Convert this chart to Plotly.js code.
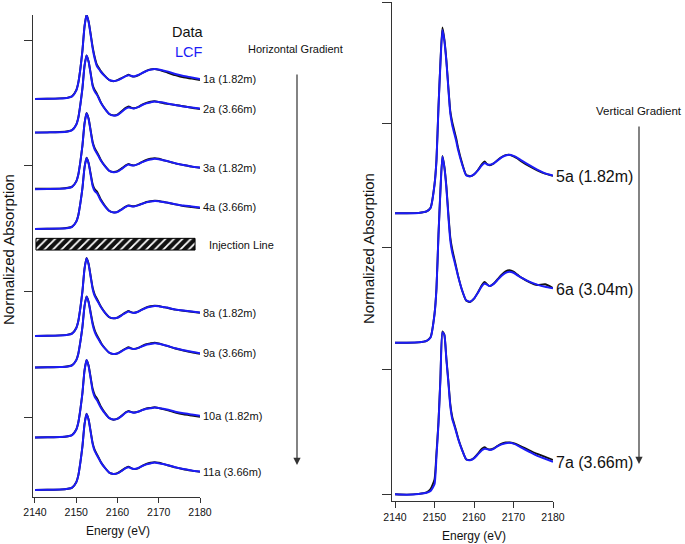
<!DOCTYPE html>
<html>
<head>
<meta charset="utf-8">
<script src="https://cdn.plot.ly/plotly-3.0.1.min.js"></script>
<style>html,body{margin:0;padding:0;background:#fff}#chart{width:685px;height:544px}</style>
</head>
<body>
<div id="chart"></div>
<script>
// ---------- DATA ----------
const energy = [2140,2143,2146,2148,2149,2150,2150.5,2151,2151.5,2152,2152.5,2153,2153.5,2154,2154.5,2155,2155.5,2156,2157,2158,2159,2160,2161,2162,2162.7,2163.3,2164,2165,2166,2167,2168,2169,2170,2171,2172,2174,2176,2178,2180];
const xTicks = [2140,2150,2160,2170,2180];

// Horizontal gradient (left panel) – normalized absorption
const data1a = [0,0.01,0.03,0.07,0.14,0.44,0.82,1.52,2.42,3.62,4.22,3.88,3.25,2.58,2.08,1.72,1.55,1.38,1.14,0.95,0.89,0.94,1.05,1.15,1.21,1.15,1.12,1.18,1.30,1.41,1.48,1.50,1.46,1.40,1.33,1.19,1.08,1.02,0.95];
const lcf1a  = [0,0.01,0.02,0.06,0.13,0.42,0.80,1.50,2.40,3.60,4.20,3.85,3.20,2.50,2.00,1.65,1.50,1.35,1.13,0.95,0.90,0.93,1.03,1.14,1.19,1.16,1.13,1.20,1.30,1.40,1.46,1.50,1.48,1.43,1.38,1.25,1.15,1.08,1.00];
const data2a = [0,0.01,0.03,0.07,0.13,0.40,0.75,1.41,2.22,3.33,3.86,3.56,2.97,2.37,2.12,1.95,1.73,1.50,1.18,0.93,0.86,0.90,1.07,1.24,1.31,1.25,1.22,1.28,1.40,1.49,1.55,1.57,1.53,1.48,1.44,1.38,1.32,1.24,1.18];
const lcf2a  = [0,0.01,0.02,0.06,0.12,0.39,0.73,1.39,2.20,3.31,3.85,3.54,2.93,2.31,2.05,1.90,1.69,1.48,1.17,0.93,0.85,0.88,1.03,1.20,1.26,1.23,1.20,1.27,1.38,1.46,1.51,1.55,1.53,1.50,1.46,1.38,1.31,1.25,1.20];
const data3a = [0.02,0.02,0.03,0.07,0.13,0.39,0.73,1.38,2.18,3.28,3.81,3.53,2.94,2.35,2.04,1.86,1.66,1.45,1.15,0.92,0.86,0.90,1.04,1.19,1.26,1.21,1.19,1.26,1.37,1.46,1.52,1.55,1.52,1.46,1.40,1.29,1.21,1.13,1.07];
const lcf3a  = [0,0.01,0.02,0.06,0.12,0.38,0.72,1.37,2.17,3.27,3.80,3.50,2.89,2.28,1.97,1.80,1.61,1.42,1.14,0.92,0.85,0.88,1.01,1.17,1.23,1.20,1.18,1.25,1.35,1.43,1.48,1.52,1.50,1.45,1.41,1.30,1.21,1.14,1.08];
const data4a = [0,0.01,0.02,0.06,0.12,0.37,0.69,1.29,2.04,3.07,3.56,3.30,2.76,2.22,1.98,1.88,1.68,1.46,1.15,0.91,0.83,0.86,0.99,1.12,1.18,1.15,1.14,1.19,1.27,1.35,1.39,1.41,1.40,1.36,1.32,1.23,1.15,1.10,1.05];
const lcf4a  = [0,0.01,0.02,0.05,0.11,0.36,0.68,1.28,2.03,3.06,3.55,3.27,2.70,2.13,1.89,1.80,1.61,1.41,1.12,0.90,0.83,0.85,0.97,1.11,1.16,1.14,1.13,1.18,1.26,1.33,1.37,1.40,1.39,1.35,1.32,1.24,1.17,1.13,1.08];
const data8a = [0,0.01,0.03,0.07,0.13,0.40,0.75,1.41,2.23,3.35,3.90,3.61,3.00,2.40,2.06,1.86,1.66,1.46,1.16,0.94,0.88,0.92,1.05,1.18,1.25,1.19,1.16,1.22,1.33,1.43,1.49,1.52,1.50,1.45,1.41,1.32,1.26,1.21,1.16];
const lcf8a  = [0,0.01,0.02,0.06,0.12,0.39,0.74,1.40,2.22,3.34,3.89,3.58,2.95,2.33,1.99,1.80,1.62,1.44,1.16,0.95,0.89,0.91,1.03,1.16,1.22,1.18,1.15,1.21,1.32,1.41,1.46,1.50,1.49,1.45,1.42,1.33,1.27,1.22,1.17];
const data9a = [0,0.01,0.02,0.06,0.12,0.37,0.69,1.29,2.03,3.06,3.55,3.29,2.75,2.21,1.85,1.62,1.43,1.23,0.95,0.74,0.67,0.71,0.83,0.95,1.01,0.96,0.93,0.98,1.08,1.17,1.21,1.24,1.20,1.14,1.08,0.95,0.85,0.76,0.69];
const lcf9a  = [0,0.01,0.02,0.05,0.11,0.36,0.68,1.28,2.02,3.05,3.54,3.26,2.69,2.13,1.77,1.55,1.38,1.20,0.94,0.74,0.68,0.70,0.81,0.93,0.98,0.95,0.92,0.97,1.06,1.14,1.17,1.21,1.19,1.14,1.09,0.96,0.86,0.79,0.71];
const data10a = [0,0.01,0.02,0.06,0.13,0.40,0.75,1.40,2.22,3.34,3.88,3.60,3.01,2.42,2.12,1.96,1.76,1.54,1.22,0.97,0.89,0.94,1.09,1.26,1.33,1.28,1.25,1.29,1.38,1.46,1.48,1.51,1.47,1.42,1.37,1.25,1.16,1.10,1.04];
const lcf10a  = [0,0.01,0.02,0.06,0.12,0.39,0.74,1.39,2.21,3.33,3.87,3.56,2.94,2.32,2.02,1.87,1.67,1.48,1.19,0.97,0.90,0.93,1.07,1.24,1.30,1.27,1.24,1.29,1.37,1.44,1.46,1.50,1.48,1.44,1.40,1.29,1.21,1.15,1.09];
const data11a = [0,0.01,0.02,0.06,0.12,0.39,0.73,1.38,2.18,3.28,3.81,3.52,2.93,2.33,1.99,1.79,1.59,1.39,1.10,0.87,0.80,0.84,0.97,1.11,1.17,1.10,1.05,1.08,1.21,1.30,1.36,1.39,1.36,1.31,1.25,1.13,1.04,0.97,0.91];
const lcf11a  = [0,0.01,0.02,0.06,0.12,0.38,0.72,1.37,2.17,3.27,3.80,3.50,2.89,2.28,1.94,1.75,1.56,1.37,1.09,0.87,0.80,0.83,0.95,1.09,1.14,1.09,1.05,1.10,1.20,1.28,1.33,1.37,1.34,1.30,1.25,1.14,1.05,0.98,0.92];

// Vertical gradient (right panel)
const data5a = [0,0,0.01,0.05,0.15,0.78,1.45,2.86,4.08,5.02,4.70,4.15,3.42,2.76,2.46,2.24,2.02,1.76,1.35,1.04,1.00,1.05,1.17,1.33,1.40,1.33,1.30,1.35,1.44,1.52,1.57,1.58,1.54,1.48,1.40,1.27,1.16,1.07,1.01];
const lcf5a  = [0,0,0.01,0.05,0.14,0.76,1.43,2.84,4.05,4.95,4.65,4.11,3.38,2.70,2.38,2.16,1.95,1.70,1.32,1.03,1.00,1.05,1.16,1.30,1.36,1.32,1.31,1.35,1.43,1.51,1.56,1.58,1.55,1.50,1.43,1.30,1.18,1.08,1.02];
const data6a = [0,0,0.01,0.05,0.15,0.78,1.48,2.90,4.12,5.05,4.76,4.24,3.50,2.85,2.52,2.28,2.04,1.80,1.41,1.14,1.10,1.19,1.36,1.56,1.64,1.58,1.53,1.60,1.72,1.84,1.93,1.96,1.92,1.84,1.76,1.64,1.56,1.58,1.48];
const lcf6a  = [0,0,0.01,0.05,0.14,0.76,1.46,2.89,4.11,5.03,4.73,4.19,3.43,2.76,2.43,2.22,2.00,1.78,1.41,1.15,1.11,1.19,1.35,1.53,1.60,1.57,1.53,1.59,1.70,1.81,1.89,1.92,1.89,1.82,1.76,1.65,1.57,1.51,1.47];
const data7a = [0,-0.01,0.01,0.05,0.14,0.40,1.12,1.95,3.15,4.40,4.31,3.68,3.08,2.44,2.09,1.90,1.71,1.51,1.20,0.95,0.93,0.98,1.10,1.23,1.27,1.23,1.21,1.24,1.31,1.37,1.40,1.40,1.38,1.34,1.29,1.19,1.09,1.01,0.93];
const lcf7a  = [0,-0.01,0.01,0.04,0.09,0.27,1.03,1.89,3.11,4.38,4.30,3.65,3.03,2.38,2.03,1.86,1.68,1.49,1.19,0.95,0.92,0.97,1.08,1.19,1.23,1.22,1.20,1.23,1.30,1.35,1.38,1.39,1.37,1.32,1.26,1.15,1.04,0.96,0.88];

const leftLabels   = ['1a (1.82m)','2a (3.66m)','3a (1.82m)','4a (3.66m)','8a (1.82m)','9a (3.66m)','10a (1.82m)','11a (3.66m)'];
const leftData     = [data1a,data2a,data3a,data4a,data8a,data9a,data10a,data11a];
const leftLcf      = [lcf1a,lcf2a,lcf3a,lcf4a,lcf8a,lcf9a,lcf10a,lcf11a];
const leftOffsets  = [19.9,18.22,15.39,13.4,8.05,6.475,2.975,0.35];

const rightLabels  = ['5a (1.82m)','6a (3.04m)','7a (3.66m)'];
const rightData    = [data5a,data6a,data7a];
const rightLcf     = [lcf5a,lcf6a,lcf7a];
const rightOffsets = [7.776,4.278,0.181];

const injectionStart = 2140.24, injectionEnd = 2178.8, injectionLevel = 12.64;

// ---------- BUILD ----------
const W = 685, H = 544;
const px = v => v / W, py = v => 1 - v / H;
const FONT = 'Arial, "Liberation Sans", sans-serif';
const BLACK = '#111111', BLUE = '#1c1cf6', AX = '#333333';

const traces = [];
function addSeries(dArr, lArr, offs, xa, ya) {
  dArr.forEach((d, i) => {
    traces.push({x: energy, y: d.map(v => v + offs[i]), xaxis: xa, yaxis: ya, type: 'scatter', mode: 'lines',
      line: {color: BLACK, width: 1.9, shape: 'spline', smoothing: 0.5}, hoverinfo: 'skip', showlegend: false});
  });
  lArr.forEach((d, i) => {
    traces.push({x: energy, y: d.map(v => v + offs[i]), xaxis: xa, yaxis: ya, type: 'scatter', mode: 'lines',
      line: {color: BLUE, width: 2.0, shape: 'spline', smoothing: 0.5}, hoverinfo: 'skip', showlegend: false});
  });
}
addSeries(leftData, leftLcf, leftOffsets, 'x', 'y');
addSeries(rightData, rightLcf, rightOffsets, 'x2', 'y2');

traces.push({type: 'bar', orientation: 'h', x: [injectionEnd - injectionStart], base: [injectionStart], y: [injectionLevel],
  width: [0.585], xaxis: 'x', yaxis: 'y', hoverinfo: 'skip', showlegend: false,
  marker: {color: '#111', line: {color: '#000', width: 1},
    pattern: {shape: '/', fgcolor: '#ffffff', bgcolor: '#111111', size: 6, solidity: 0.3, fillmode: 'replace'}}});

const annotations = [];
leftLabels.forEach((t, i) => {
  annotations.push({xref: 'x', yref: 'y', x: 2180, y: leftOffsets[i] + leftLcf[i][leftLcf[i].length - 1],
    text: t, showarrow: false, xanchor: 'left', yanchor: 'middle', xshift: 1, font: {family: FONT, size: 11, color: '#111'}});
});
rightLabels.forEach((t, i) => {
  annotations.push({xref: 'x2', yref: 'y2', x: 2180, y: rightOffsets[i] + rightLcf[i][rightLcf[i].length - 1],
    text: t, showarrow: false, xanchor: 'left', yanchor: 'middle', xshift: 1, yshift: -1, font: {family: FONT, size: 16, color: '#111'}});
});
const txt = (text, x, y, size, extra) => Object.assign({xref: 'paper', yref: 'paper', x: px(x), y: py(y), text: text,
  showarrow: false, xanchor: 'center', yanchor: 'middle', font: {family: FONT, size: size, color: '#111'}}, extra || {});
annotations.push(txt('Normalized Absorption', 9, 250, 15, {textangle: -90}));
annotations.push(txt('Normalized Absorption', 368, 249, 15, {textangle: -90}));
annotations.push(txt('Energy (eV)', 118, 531, 12));
annotations.push(txt('Energy (eV)', 474, 535.5, 12));
annotations.push(txt('Data', 188, 32, 14.5));
annotations.push(txt('LCF', 189, 52, 14.5, {font: {family: FONT, size: 14.5, color: BLUE}}));
annotations.push(txt('Horizontal Gradient', 295, 49, 11));
annotations.push(txt('Vertical Gradient', 639, 111, 11.5));
annotations.push(txt('Injection Line', 207, 245, 11, {xanchor: 'left'}));
// gradient arrows
annotations.push({xref: 'paper', yref: 'paper', x: px(297), y: py(465), ax: 0, ay: -392, text: '', showarrow: true,
  arrowhead: 2, arrowsize: 1.2, arrowwidth: 1.2, arrowcolor: '#333'});
annotations.push({xref: 'paper', yref: 'paper', x: px(639), y: py(464), ax: 0, ay: -339, text: '', showarrow: true,
  arrowhead: 2, arrowsize: 1.2, arrowwidth: 1.2, arrowcolor: '#333'});

const xBase = {showline: true, linecolor: AX, linewidth: 1, ticks: 'outside', ticklen: 5, tickwidth: 1, tickcolor: AX,
  tickvals: xTicks, ticktext: xTicks.map(String), tickfont: {family: FONT, size: 10.5, color: '#111'},
  showgrid: false, zeroline: false, fixedrange: true};
const yBase = {showline: true, linecolor: AX, linewidth: 1, ticks: 'outside', tickwidth: 1, tickcolor: AX,
  showticklabels: false, showgrid: false, zeroline: false, fixedrange: true};

const layout = {
  width: W, height: H, autosize: false, margin: {l: 0, r: 0, t: 0, b: 0},
  paper_bgcolor: '#fff', plot_bgcolor: 'rgba(0,0,0,0)', showlegend: false,
  xaxis: Object.assign({}, xBase, {domain: [px(33), px(200)], range: [2139.52, 2180], anchor: 'y'}),
  yaxis: Object.assign({}, yBase, {domain: [47 / H, 529 / H], range: [0, 24.1], tickvals: [4.0, 10.3, 16.6, 22.85], ticklen: 8, anchor: 'x'}),
  xaxis2: Object.assign({}, xBase, {domain: [px(392), px(553)], range: [2139.24, 2180], anchor: 'y2', ticklen: 6}),
  yaxis2: Object.assign({}, yBase, {domain: [43 / H, 542 / H], range: [0, 13.486], tickvals: [0.189, 3.541, 6.838, 10.189, 13.486], ticklen: 9, anchor: 'x2'}),
  annotations: annotations
};

Plotly.newPlot('chart', traces, layout, {staticPlot: true, displayModeBar: false});
</script>
</body>
</html>
